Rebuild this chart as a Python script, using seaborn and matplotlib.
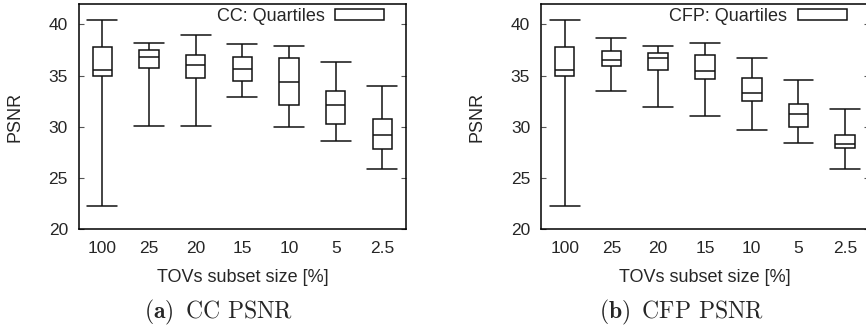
import numpy as np
import pandas as pd
import matplotlib
matplotlib.use("Agg")
import matplotlib.pyplot as plt
import seaborn as sns
from matplotlib.patches import Patch

# ---- data ----
sizes = ["100", "25", "20", "15", "10", "5", "2.5"]

cc_min = [22.3, 30.1, 30.1, 32.9, 30.0, 28.6, 25.9]
cc_q1 = [35.0, 35.75, 34.8, 34.5, 32.1, 30.3, 27.8]
cc_med = [35.6, 36.85, 36.0, 35.7, 34.35, 32.1, 29.25]
cc_q3 = [37.8, 37.55, 37.05, 36.8, 36.7, 33.55, 30.8]
cc_max = [40.4, 38.2, 39.0, 38.1, 37.9, 36.3, 34.0]

cfp_min = [22.3, 33.5, 31.9, 31.05, 29.7, 28.4, 25.9]
cfp_q1 = [35.0, 35.95, 35.55, 34.7, 32.5, 29.95, 27.9]
cfp_med = [35.6, 36.55, 36.7, 35.45, 33.35, 31.25, 28.3]
cfp_q3 = [37.8, 37.45, 37.25, 37.0, 34.8, 32.25, 29.25]
cfp_max = [40.4, 38.65, 37.85, 38.2, 36.7, 34.55, 31.75]

legend_labels = ["CC: Quartiles", "CFP: Quartiles"]
captions = [r"$\mathbf{(a)}\,$ CC PSNR", r"$\mathbf{(b)}\,$ CFP PSNR"]
y_ticks = [20, 25, 30, 35, 40]


def long_frame(mins, q1s, meds, q3s, maxs):
    rows = []
    for s, a, b, c, d, e in zip(sizes, mins, q1s, meds, q3s, maxs):
        for v in (a, b, c, d, e):
            rows.append({"size": s, "psnr": v})
    return pd.DataFrame(rows)


df_cc = long_frame(cc_min, cc_q1, cc_med, cc_q3, cc_max)
df_cfp = long_frame(cfp_min, cfp_q1, cfp_med, cfp_q3, cfp_max)

sns.set_style("white")
plt.rcParams["font.family"] = ["Liberation Sans", "DejaVu Sans"]
plt.rcParams["mathtext.fontset"] = "cm"

W, H = 866, 330
fig = plt.figure(figsize=(W / 100, H / 100), dpi=100)
bottom = 1 - 229.3 / H
height = 225.3 / H
ax1 = fig.add_axes([79 / W, bottom, 326.7 / W, height])
ax2 = fig.add_axes([541.3 / W, bottom, 327.3 / W, height])

panels = [
    (ax1, df_cc, legend_labels[0], captions[0], 219 / W),
    (ax2, df_cfp, legend_labels[1], captions[1], 682 / W),
]

for ax, df, lab, cap, cx in panels:
    sns.boxplot(data=df, x="size", y="psnr", order=sizes, whis=(0, 100),
                width=0.42, color="white", saturation=1, linecolor="#111111",
                linewidth=1.1, capwidths=0.64, ax=ax)
    ax.set_xlim(-0.5, 6.5)
    ax.set_ylim(20, 42)
    ax.set_yticks(y_ticks)
    ax.tick_params(axis="y", direction="in", length=3.5, width=0.8,
                   color="#555555", left=True, right=True, labelsize=12.5, pad=8)
    ax.tick_params(axis="x", length=0, pad=8.5, labelsize=12.5)
    for sp in ax.spines.values():
        sp.set_visible(True)
        sp.set_color("black")
        sp.set_linewidth(1.1)
    ax.set_xlabel("TOVs subset size [%]", fontsize=13)
    ax.xaxis.set_label_coords(0.5, -0.212)
    ax.xaxis.label.set_va("center")
    ax.set_ylabel("PSNR", fontsize=13)
    ax.yaxis.set_label_coords(-0.196, 0.5)
    ax.yaxis.label.set_va("center")

    handle = Patch(facecolor="white", edgecolor="#111111", linewidth=1.1)
    ax.legend([handle], [lab], loc="center right",
              bbox_to_anchor=(0.9336, 0.9445), frameon=False,
              markerfirst=False, fontsize=13, handlelength=2.7,
              handleheight=0.5, handletextpad=0.6, borderpad=0,
              borderaxespad=0)

    fig.text(cx, 1 - 312 / H, cap, family="cmr10", fontsize=17,
             ha="center", va="center")

fig.savefig("out.png", dpi=100)
